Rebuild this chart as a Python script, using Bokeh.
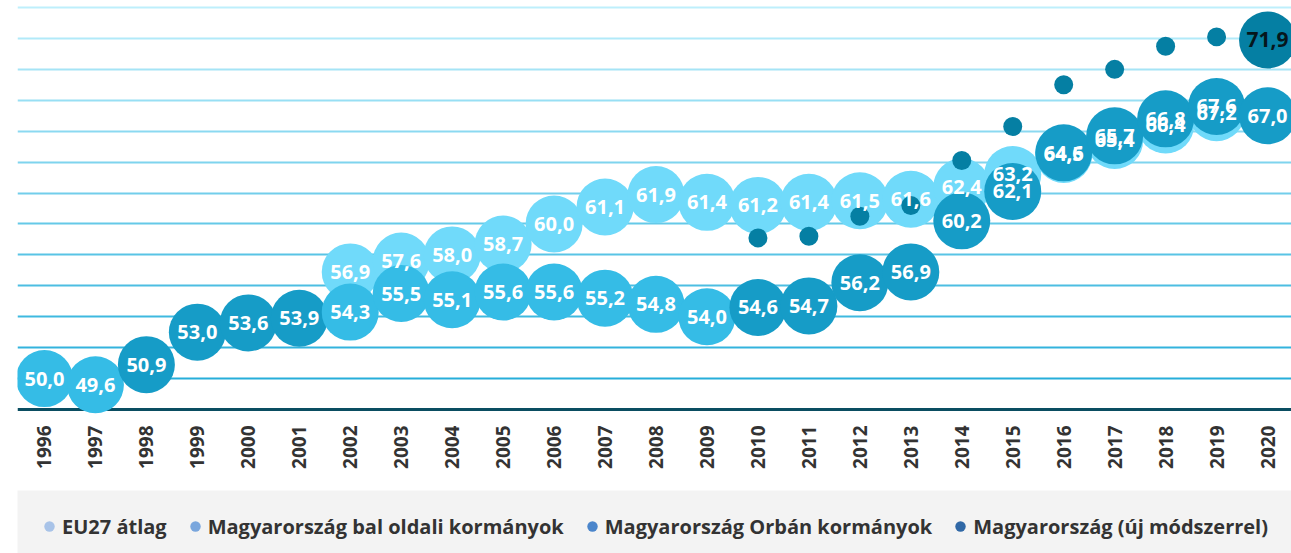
import math
from bokeh.plotting import figure
from bokeh.layouts import column
from bokeh.models import FixedTicker, Legend, LegendItem, Range1d, ColumnDataSource
from bokeh.core.properties import value
from bokeh.embed import file_html
from bokeh.resources import INLINE

# ---------------- data ----------------
years = list(range(1996, 2021))

eu_years = list(range(2002, 2020))
eu_values = [56.9, 57.6, 58.0, 58.7, 60.0, 61.1, 61.9, 61.4, 61.2, 61.4,
             61.5, 61.6, 62.4, 63.2, 64.5, 65.4, 66.4, 67.2]

hu_years = list(range(1996, 2021))
hu_values = [50.0, 49.6, 50.9, 53.0, 53.6, 53.9, 54.3, 55.5, 55.1, 55.6,
             55.6, 55.2, 54.8, 54.0, 54.6, 54.7, 56.2, 56.9, 60.2, 62.1,
             64.6, 65.7, 66.8, 67.6, 67.0]
hu_government = ["bal", "bal", "orban", "orban", "orban", "orban",
                 "bal", "bal", "bal", "bal", "bal", "bal", "bal", "bal",
                 "orban", "orban", "orban", "orban", "orban", "orban",
                 "orban", "orban", "orban", "orban", "orban"]

new_years = list(range(2010, 2021))
new_values = [59.1, 59.2, 60.5, 61.2, 64.1, 66.3, 69.0, 70.0, 71.5, 72.1, 71.9]

series_names = ["EU27 átlag", "Magyarország bal oldali kormányok",
                "Magyarország Orbán kormányok", "Magyarország (új módszerrel)"]

grid_levels = list(range(50, 76, 2))
baseline_level = [48]

# ---------------- styles ----------------
EU_COLOR = "#70dafa"
BAL_COLOR = "#35bce6"
ORBAN_COLOR = "#169cc7"
NEW_COLOR = "#057fa3"
legend_colors = ["#a8c3e8", "#79a6dd", "#4a85cb", "#3068a6"]
gov_colors = {"bal": BAL_COLOR, "orban": ORBAN_COLOR}

def fmt(v):
    return f"{v:.1f}".replace(".", ",")

def lerp_color(c0, c1, t):
    r = [round(a + (b - a) * t) for a, b in zip(c0, c1)]
    return "#%02x%02x%02x" % tuple(r)

top_c = (190, 239, 252)
bot_c = (38, 174, 218)
n = len(grid_levels)
grid_colors = [lerp_color(bot_c, top_c, i / (n - 1)) for i in range(n)]

p = figure(width=1291, height=490,
           x_range=Range1d(1995.471, 2020.470), y_range=Range1d(47.677, 74.453),
           y_axis_location=None, output_backend="svg", toolbar_location=None,
           min_border_left=15, min_border_right=0, min_border_top=0, min_border_bottom=76,
           background_fill_color="white", border_fill_color="white")
p.outline_line_color = None
p.xgrid.visible = False
p.ygrid.visible = False

# gridlines
p.hspan(y=grid_levels, line_color=grid_colors, line_width=2)
p.hspan(y=baseline_level, line_color="#0a4d61", line_width=3)

LABEL_FONT = value("Open Sans")

# EU circles
p.scatter(eu_years, eu_values, size=57, fill_color=EU_COLOR, line_color=None)

# new-method dots
p.scatter(new_years[:-1], new_values[:-1], size=19, fill_color=NEW_COLOR, line_color=None)
p.scatter(new_years[-1:], new_values[-1:], size=57, fill_color=NEW_COLOR, line_color=None)

# Hungary circles (in year order)
hu_src = ColumnDataSource(dict(x=hu_years, y=hu_values,
                               c=[gov_colors[g] for g in hu_government],
                               t=[fmt(v) for v in hu_values]))
p.scatter("x", "y", source=hu_src, size=57, fill_color="c", line_color=None)

# labels
p.text(eu_years, eu_values, text=[fmt(v) for v in eu_values],
       text_font=LABEL_FONT, text_font_style="bold", text_font_size="20px",
       text_color="white", text_align="center", text_baseline="middle")
p.text("x", "y", text="t", source=hu_src,
       text_font=LABEL_FONT, text_font_style="bold", text_font_size="20px",
       text_color="white", text_align="center", text_baseline="middle")
p.text(new_years[-1:], new_values[-1:], text=[fmt(v) for v in new_values[-1:]],
       text_font=LABEL_FONT, text_font_style="bold", text_font_size="21px",
       text_color="#06161c", text_align="center", text_baseline="middle")

# x axis
ax = p.xaxis[0]
ax.ticker = FixedTicker(ticks=years)
ax.axis_line_color = None
ax.major_tick_line_color = None
ax.minor_tick_line_color = None
ax.major_tick_out = 0
ax.major_tick_in = 0
ax.major_label_orientation = math.pi / 2
ax.major_label_standoff = 11
ax.major_label_text_font = "Open Sans"
ax.major_label_text_font_style = "bold"
ax.major_label_text_font_size = "19px"
ax.major_label_text_color = "#333333"

# ---------------- legend strip ----------------
p2 = figure(width=1291, height=63, x_range=Range1d(0, 1), y_range=Range1d(0, 1),
            x_axis_location=None, y_axis_location=None,
            output_backend="svg", toolbar_location=None,
            min_border_left=17, min_border_right=0, min_border_top=0, min_border_bottom=0,
            background_fill_color="#f3f3f3", border_fill_color="white")
p2.outline_line_color = None
p2.xgrid.visible = False
p2.ygrid.visible = False

items = []
for name, col in zip(series_names, legend_colors):
    # legend-only renderer: a single non-drawable (NaN) point so the key glyph is painted
    r = p2.scatter(x=[float("nan")], y=[float("nan")], size=11,
                   fill_color=col, line_color=None)
    items.append(LegendItem(label=name, renderers=[r]))
legend = Legend(items=items, orientation="horizontal", location="top_left",
                background_fill_alpha=0.0, border_line_color=None,
                margin=19, padding=0, spacing=15,
                glyph_width=26, glyph_height=34, label_standoff=0,
                label_text_font="Open Sans", label_text_font_style="bold",
                label_text_font_size="20px", label_text_color="#333333")
p2.add_layout(legend, "center")

layout = column(p, p2, spacing=0)
open("out.html", "w").write(file_html(layout, INLINE))
